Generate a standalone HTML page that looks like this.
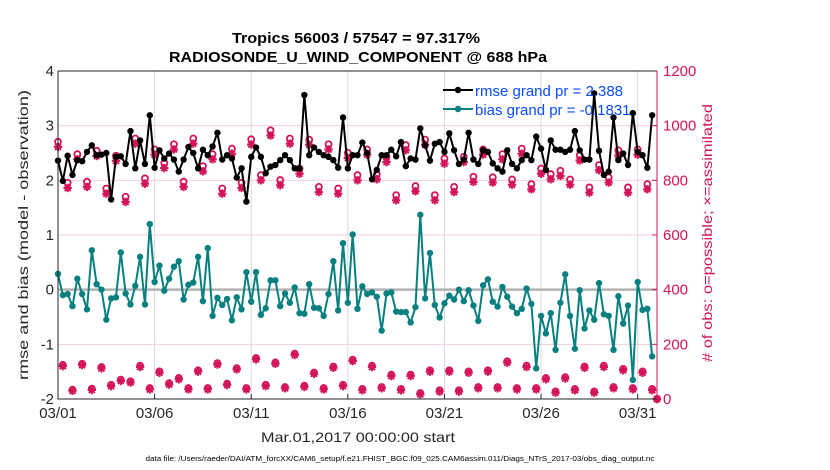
<!DOCTYPE html>
<html><head><meta charset="utf-8"><style>
html,body{margin:0;padding:0;background:#fff;}
svg{display:block;font-family:"Liberation Sans",Arial,sans-serif;}
</style></head><body>
<svg id="chart" width="830" height="470" viewBox="0 0 830 470" xmlns="http://www.w3.org/2000/svg">
<g id="grid"></g>
<g id="marks"></g>
<g id="axes"></g>
<text x="356" y="43" text-anchor="middle" font-size="15" font-weight="bold" textLength="248" lengthAdjust="spacingAndGlyphs">Tropics 56003 / 57547 = 97.317%</text>
<text x="358" y="62" text-anchor="middle" font-size="15" font-weight="bold" textLength="378" lengthAdjust="spacingAndGlyphs">RADIOSONDE_U_WIND_COMPONENT @ 688 hPa</text>
<text transform="translate(28,235) rotate(-90)" text-anchor="middle" font-size="14" fill="#262626" textLength="290" lengthAdjust="spacingAndGlyphs">rmse and bias (model - observation)</text>
<text transform="translate(712,233) rotate(-90)" text-anchor="middle" font-size="14" fill="#d4145a" textLength="258" lengthAdjust="spacingAndGlyphs"># of obs: o=possible; ×=assimilated</text>
<text x="358" y="442" text-anchor="middle" font-size="14" fill="#262626" textLength="194" lengthAdjust="spacingAndGlyphs">Mar.01,2017 00:00:00 start</text>
<text x="400" y="461" text-anchor="middle" font-size="7.5" fill="#000" textLength="509" lengthAdjust="spacingAndGlyphs">data file: /Users/raeder/DAI/ATM_forcXX/CAM6_setup/f.e21.FHIST_BGC.f09_025.CAM6assim.011/Diags_NTrS_2017-03/obs_diag_output.nc</text>
<g>
<g>
<line x1="443" y1="90" x2="473" y2="90" stroke="#000" stroke-width="2"/><circle cx="458" cy="90" r="3.2" fill="#000"/>
<text x="475" y="96" font-size="15" fill="#0a4dff">rmse grand pr = 2.388</text></g>
<g>
<line x1="443" y1="109" x2="473" y2="109" stroke="#088080" stroke-width="2"/><circle cx="458" cy="109" r="3.2" fill="#088080"/>
<text x="475" y="115" font-size="15" fill="#0a4dff">bias grand pr = -0.1831</text></g>
</g>
</svg>
<script>
const xTickLabels=["03/01","03/06","03/11","03/16","03/21","03/26","03/31"];
const xTickDays=[0,5,10,15,20,25,30];
const leftTicks=[-2,-1,0,1,2,3,4];
const rightTicks=[0,200,400,600,800,1000,1200];
const rmse=[2.36,1.99,2.45,2.1,2.37,2.35,2.52,2.64,2.46,2.47,2.5,1.65,2.43,2.44,2.3,2.9,2.22,2.73,2.3,3.19,2.23,2.55,2.4,2.49,2.38,2.16,2.38,2.61,2.5,2.22,2.56,2.46,2.62,2.87,2.38,2.46,2.4,2.05,2.22,1.61,2.43,2.6,2.43,2.13,2.25,2.28,2.37,2.46,2.37,2.22,2.22,3.56,2.46,2.6,2.52,2.46,2.43,2.37,2.23,3.15,2.22,2.46,2.46,2.69,2.5,2.02,2.19,2.46,2.46,2.56,2.44,2.7,2.26,2.4,2.38,2.95,2.64,2.36,2.67,2.7,2.52,2.86,2.55,2.3,2.38,2.87,2.38,2.3,2.55,2.52,2.31,2.22,2.16,2.55,2.3,2.22,2.37,2.46,2.37,2.8,2.58,2.19,2.73,2.56,2.56,2.52,2.56,2.9,2.55,2.38,2.38,3.59,2.54,2.1,2.16,3.15,2.37,2.49,2.28,3.23,2.52,2.46,2.23,3.19];
const bias=[0.29,-0.1,-0.08,-0.3,0.2,-0.08,-0.36,0.72,0.1,0,-0.55,-0.16,-0.14,0.68,-0.07,-0.27,0.07,0.6,-0.27,1.2,0.14,0.44,-0.02,0.2,0.42,0.52,-0.18,0.09,0.13,0.6,-0.21,0.76,-0.48,-0.15,-0.28,-0.17,-0.56,-0.14,-0.36,0.32,-0.22,0.32,-0.46,-0.34,0.17,0.17,-0.3,-0.07,-0.24,0.04,-0.43,-0.44,0.1,-0.33,-0.34,-0.48,-0.08,0.52,-0.38,0.85,-0.24,1.01,-0.35,0.06,-0.08,-0.05,-0.13,-0.75,-0.07,-0.05,-0.4,-0.41,-0.41,-0.6,-0.32,1.37,-0.16,0.67,-0.28,-0.51,-0.25,-0.11,-0.18,0,-0.21,-0.01,-0.29,-0.57,0.08,0.19,-0.22,-0.31,0.05,-0.13,-0.31,-0.43,-0.35,0.02,-0.26,-1.44,-0.48,-0.8,-0.43,-1.1,-0.24,0.28,-0.48,-1.08,-0.01,-0.71,-0.38,-0.55,0.12,-0.45,-0.48,-1.1,-0.12,-0.62,-0.29,-1.65,0.14,-0.37,-0.35,-1.22];
const possible=[941,125,791,34,896,129,795,38,908,117,770,52,890,71,740,65,953,122,807,40,913,101,864,58,932,77,795,40,953,105,852,40,896,131,770,56,916,113,791,40,950,150,819,52,983,134,801,44,953,166,843,49,949,97,776,40,932,119,770,52,901,144,819,37,913,122,823,44,886,89,746,37,929,89,779,22,949,105,746,32,880,105,776,32,886,101,813,44,913,105,811,44,896,138,803,40,916,122,786,40,843,77,823,28,835,80,803,37,892,119,774,28,856,122,811,44,910,110,774,40,913,101,786,37,0];
const assimilated=[922,120,772,30,877,124,776,33,889,112,751,47,871,66,721,60,934,117,788,35,894,96,845,53,913,72,776,35,934,100,833,35,877,126,751,51,897,108,772,35,931,145,800,47,964,129,782,39,934,161,824,44,930,92,757,35,913,114,751,47,882,139,800,32,894,117,804,39,867,84,727,32,910,84,760,17,930,100,727,27,861,100,757,27,867,96,794,39,894,100,792,39,877,133,784,35,897,117,767,35,824,72,804,23,816,75,784,32,873,114,755,23,837,117,792,39,891,105,755,35,894,96,767,32,0];

const NS="http://www.w3.org/2000/svg";
const X0=58,X1=657,Y0=71,Y1=399;
const xs=d=>X0+d*(X1-X0)/31;
const ysL=v=>Y1-(v+2)*(Y1-Y0)/6;
const ysR=v=>Y1-v*(Y1-Y0)/1200;
const RED="#d4145a",TEAL="#088080";
function mk(tag,parent,attrs){const e=document.createElementNS(NS,tag);for(const k in attrs)e.setAttribute(k,attrs[k]);parent.appendChild(e);return e;}
const grid=document.getElementById('grid'),marks=document.getElementById('marks'),axes=document.getElementById('axes');
xTickDays.forEach((d,i)=>{
  const g=mk('line',grid,{x1:xs(d),x2:xs(d),y1:Y0,y2:Y1,stroke:"#d9d9d9","stroke-width":1});
  
  
  const t=mk('text',axes,{x:xs(d),y:418,"text-anchor":"middle","font-size":15,fill:"#262626"});
  t.textContent=xTickLabels[i];
  
  
  mk('line',axes,{x1:xs(d),x2:xs(d),y1:Y1,y2:Y1-5,stroke:"#262626"});
});
leftTicks.forEach(v=>{
  if(v>-2&&v<4){const g=mk('line',grid,{x1:X0,x2:X1,y1:ysL(v),y2:ysL(v),stroke:"#f6cddb","stroke-width":1});
  
  }
  const t=mk('text',axes,{x:54,y:ysL(v)+5,"text-anchor":"end","font-size":15,fill:"#262626"});
  t.textContent=v;
  
  
});
rightTicks.forEach(v=>{
  const t=mk('text',axes,{x:663,y:ysR(v)+5,"font-size":15,fill:RED});
  t.textContent=v;
  
  
  mk('line',axes,{x1:X1,x2:X1-5,y1:ysR(v),y2:ysR(v),stroke:RED});
});
const zl=mk('line',grid,{x1:X0,x2:X1,y1:ysL(0),y2:ysL(0),stroke:"#b3b3b3","stroke-width":2.5});


const frame=mk('path',axes,{d:`M${X0},${Y0}H${X1}M${X0},${Y0}V${Y1}H${X1}`,fill:"none",stroke:"#262626","stroke-width":1});


const ra=mk('line',axes,{x1:X1,x2:X1,y1:Y0,y2:Y1,stroke:RED,"stroke-width":1});


possible.forEach((v,i)=>{
  const x=xs(i*0.25);
  const a=assimilated[i],ya=ysR(a);
  const s=mk('path',marks,{d:`M${x-4.2},${ya}H${x+4.2}M${x},${ya-4.2}V${ya+4.2}M${x-3},${ya-3}L${x+3},${ya+3}M${x-3},${ya+3}L${x+3},${ya-3}`,stroke:RED,"stroke-width":2,fill:"none"});
  
  
  const c=mk('circle',marks,{cx:x,cy:ysR(v),r:3,fill:"none",stroke:RED,"stroke-width":1.8});
  
  
});
function series(arr,color,name){
  const pts=arr.map((v,i)=>xs(i*0.25).toFixed(2)+","+ysL(v).toFixed(2)).join(" ");
  const p=mk('polyline',marks,{points:pts,fill:"none",stroke:color,"stroke-width":2,"stroke-linejoin":"round"});
  
  
  arr.forEach((v,i)=>{
    const c=mk('circle',marks,{cx:xs(i*0.25),cy:ysL(v),r:3.2,fill:color});
    
    
  });
}
series(bias,TEAL,'bias');
series(rmse,"#000",'rmse');
</script>
</body></html>
